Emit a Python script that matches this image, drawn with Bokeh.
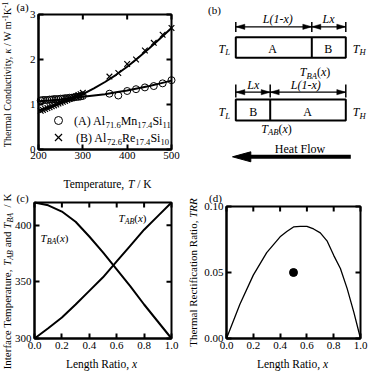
import math
from bokeh.plotting import figure
from bokeh.models import Range1d, LinearAxis, FixedTicker, NumeralTickFormatter, Label, BasicTickFormatter
from bokeh.layouts import column, row
from bokeh.embed import file_html
from bokeh.resources import INLINE

# ---------------- data ----------------
# (a) thermal conductivity
temp_low = [205, 210, 215, 220, 225, 230, 235, 240, 245, 250, 255, 260, 265, 270, 275, 280, 285, 290, 295, 300]
kA_low = [1.09, 1.10, 1.10, 1.10, 1.11, 1.11, 1.12, 1.12, 1.12, 1.13, 1.13, 1.14, 1.14, 1.15, 1.15, 1.16, 1.17, 1.17, 1.18, 1.19]
kB_low = [0.86, 0.88, 0.90, 0.92, 0.94, 0.96, 0.98, 1.00, 1.02, 1.04, 1.06, 1.08, 1.10, 1.12, 1.14, 1.16, 1.18, 1.21, 1.23, 1.26]
temp_high = [360, 380, 400, 420, 440, 460, 480, 500]
kA_high = [1.24, 1.20, 1.30, 1.34, 1.38, 1.41, 1.47, 1.54]
kB_high = [1.62, 1.70, 1.90, 2.00, 2.20, 2.37, 2.55, 2.70]
temp_fit = [200, 225, 250, 275, 300, 325, 350, 375, 400, 425, 450, 475, 500]
kA_fit = [1.07, 1.09, 1.11, 1.14, 1.17, 1.20, 1.23, 1.27, 1.31, 1.36, 1.41, 1.47, 1.53]
kB_fit = [0.87, 0.94, 1.03, 1.12, 1.23, 1.36, 1.50, 1.66, 1.84, 2.04, 2.25, 2.47, 2.70]
a_xticks = [200, 300, 400, 500]
a_yticks = [0, 1, 2, 3]

# (c) interface temperatures
x_ratio = [0.0, 0.1, 0.2, 0.3, 0.4, 0.5, 0.6, 0.7, 0.8, 0.9, 1.0]
T_AB = [300, 309, 318.5, 330, 342, 354, 368, 382, 396, 408, 420]
T_BA = [420, 417.5, 412, 403, 390, 376, 361, 346, 330, 315, 300]
c_xticks = [0.0, 0.2, 0.4, 0.6, 0.8, 1.0]
c_yticks = [300, 350, 400]

# (d) thermal rectification ratio
x_trr = [0.0, 0.1, 0.2, 0.3, 0.4, 0.45, 0.5, 0.55, 0.6, 0.65, 0.7, 0.75, 0.8, 0.85, 0.9, 0.95, 1.0]
trr = [0.0, 0.026, 0.048, 0.065, 0.077, 0.081, 0.0845, 0.085, 0.085, 0.083, 0.080, 0.074, 0.063, 0.053, 0.038, 0.020, 0.0]
x_point = [0.5]
trr_point = [0.05]
d_yticks = [0.0, 0.05, 0.10]

FONT = "Liberation Serif"

# ---------------- text helpers ----------------
METR = {' ': 250, '(': 333, ')': 333, ',': 250, '-': 333, '.': 250, '/': 278,
        'A': 722, 'B': 667, 'C': 667, 'F': 556, 'H': 722, 'I': 333, 'K': 722, 'L': 611,
        'M': 889, 'R': 667, 'S': 556, 'T': 611, 'W': 944,
        'a': 444, 'b': 500, 'c': 444, 'd': 500, 'e': 444, 'f': 333, 'g': 500, 'h': 500,
        'i': 278, 'l': 278, 'm': 778, 'n': 500, 'o': 500, 'p': 500, 'r': 333, 't': 278,
        'u': 500, 'v': 500, 'w': 722, 'x': 500, 'y': 500, 'κ': 550}
ITAL = {'T': 556, 'L': 556, 'x': 444, 'A': 611, 'B': 611, 'H': 722, 'R': 611, 'κ': 500}


def tw(s, size, italic=False):
    tot = 0
    for ch in s:
        if italic and ch in ITAL:
            tot += ITAL[ch]
        else:
            tot += METR.get(ch, 500)
    return tot * size / 1000.0


def rich(p, f, X, Y, segs, size, vertical=False):
    """Place a run of text segments centred at reference pixel (X, Y)."""
    sub = round(size * 0.72, 1)
    items = []
    for text, kind in segs:
        italic = kind.startswith('i')
        small = kind.endswith('sub') or kind.endswith('sup')
        s = sub if small else size
        lead = len(text) - len(text.lstrip(' '))
        lead_w = tw(' ' * lead, s)
        body = text.strip(' ')
        w = tw(text, s, italic)
        if kind.endswith('sub'):
            off = 0.28 * size
        elif kind.endswith('sup'):
            off = -0.33 * size
        else:
            off = 0.0
        items.append((body, italic, s, w, off, lead_w))
    total = sum(it[3] for it in items)
    base = 0.08 * size
    if not vertical:
        cur = X - total / 2
        for text, italic, s, w, off, lead_w in items:
            dx, dy = f(cur + lead_w, Y + base + off)
            p.add_layout(Label(x=dx, y=dy, text=text, text_font=FONT, text_font_size=f"{s}px",
                               text_font_style="italic" if italic else "normal",
                               text_align="left", text_baseline="alphabetic", text_color="black"))
            cur += w
    else:
        cur = Y + total / 2
        for text, italic, s, w, off, lead_w in items:
            dx, dy = f(X + base + off, cur - lead_w)
            p.add_layout(Label(x=dx, y=dy, text=text, text_font=FONT, text_font_size=f"{s}px",
                               text_font_style="italic" if italic else "normal", angle=math.pi / 2,
                               text_align="left", text_baseline="alphabetic", text_color="black"))
            cur -= w


def panel_geom(cx0, cx1, cy0, cy1, bx0, bx1, by0, by1, dx0, dx1, dy0, dy1):
    """canvas (cx, cy) and plot box (bx, by: top, bottom) in reference pixels; box data limits."""
    sx = (dx1 - dx0) / (bx1 - bx0)
    sy = (dy1 - dy0) / (by1 - by0)
    xr = (dx0 - (bx0 - cx0) * sx, dx1 + (cx1 - bx1) * sx)
    yr = (dy0 - (cy1 - by1) * sy, dy1 + (by0 - cy0) * sy)

    def f(X, Y):
        return dx0 + (X - bx0) * sx, dy0 + (by1 - Y) * sy
    return xr, yr, f, sx, sy


def style_axis(ax, ticks, fmt, standoff):
    ax.ticker = FixedTicker(ticks=ticks, minor_ticks=[])
    ax.major_tick_in = 5
    ax.major_tick_out = 0
    ax.minor_tick_in = 0
    ax.minor_tick_out = 0
    ax.major_tick_line_width = 2
    ax.major_tick_line_color = "black"
    ax.axis_line_width = 2
    ax.axis_line_color = "black"
    ax.major_label_text_font = FONT
    ax.major_label_text_font_size = "11px"
    ax.major_label_text_color = "black"
    ax.major_label_standoff = standoff
    ax.formatter = fmt


def make_panel(cx0, cx1, cy0, cy1, bx0, bx1, by0, by1, dx0, dx1, dy0, dy1,
               xticks, yticks, xfmt, yfmt, xs=2, ys=3):
    xr, yr, f, sx, sy = panel_geom(cx0, cx1, cy0, cy1, bx0, bx1, by0, by1, dx0, dx1, dy0, dy1)
    p = figure(width=int(round(cx1 - cx0)), height=int(round(cy1 - cy0)),
               x_range=Range1d(*xr), y_range=Range1d(*yr),
               x_axis_location=None, y_axis_location=None,
               output_backend="svg", toolbar_location=None,
               min_border_left=0, min_border_right=0, min_border_top=0, min_border_bottom=0)
    p.xgrid.visible = False
    p.ygrid.visible = False
    p.outline_line_color = None
    p.background_fill_color = "white"
    p.border_fill_color = "white"
    xa = LinearAxis(fixed_location=dy0, bounds=(dx0, dx1))
    style_axis(xa, xticks, xfmt, xs)
    p.add_layout(xa, "below")
    ya = LinearAxis(fixed_location=dx0, bounds=(dy0, dy1))
    style_axis(ya, yticks, yfmt, ys)
    p.add_layout(ya, "left")
    # frame box and mirrored (inward) ticks on top and right
    p.quad(left=[dx0], right=[dx1], bottom=[dy0], top=[dy1], fill_color=None,
           line_color="black", line_width=2)
    p.segment(x0=xticks, y0=[dy1] * len(xticks), x1=xticks, y1=[dy1 - 5 * sy] * len(xticks),
              line_color="black", line_width=2)
    p.segment(x0=[dx1] * len(yticks), y0=yticks, x1=[dx1 - 5 * sx] * len(yticks), y1=yticks,
              line_color="black", line_width=2)
    return p, f


# canvas covers reference pixels x 10..378, y 6..377
ROW = 197
# ---------------- (a) ----------------
pa, fa = make_panel(10, 192, 6, ROW, 48, 181, 20, 155, 200, 500, 0, 3,
                    a_xticks, a_yticks, BasicTickFormatter(), BasicTickFormatter())
pa.line(temp_fit, kA_fit, line_color="black", line_width=2)
pa.line(temp_fit, kB_fit, line_color="black", line_width=2)
pa.scatter(temp_low + temp_high, kA_low + kA_high, marker="circle", size=7,
           fill_color=None, line_color="black", line_width=1)
pa.scatter(temp_low + temp_high, kB_low + kB_high, marker="x", size=8,
           line_color="black", line_width=1.2)
# legend
lx, ly1 = fa(68, 126)
_, ly2 = fa(68, 143)
pa.scatter([lx], [ly1], marker="circle", size=8, fill_color=None, line_color="black", line_width=1)
pa.scatter([lx], [ly2], marker="x", size=10, line_color="black", line_width=1.2)
rich(pa, fa, 132, 126, [("(A) Al", "n"), ("71.6", "sub"), ("Mn", "n"), ("17.4", "sub"),
                        ("Si", "n"), ("11", "sub")], 12)
rich(pa, fa, 132, 143, [("(B) Al", "n"), ("72.6", "sub"), ("Re", "n"), ("17.4", "sub"),
                        ("Si", "n"), ("10", "sub")], 12)
rich(pa, fa, 32, 12, [("(a)", "n")], 11)
rich(pa, fa, 117, 189, [("Temperature, ", "n"), ("T", "i"), (" / K", "n")], 11.5)
rich(pa, fa, 16.5, 80, [("Thermal Conductivity, ", "n"), ("κ", "i"), (" / W m", "n"), ("-1", "sup"),
                        ("K", "n"), ("-1", "sup")], 10, vertical=True)

# ---------------- (b) ----------------
pb = figure(width=186, height=ROW - 6, x_range=Range1d(192, 378), y_range=Range1d(ROW, 6),
            x_axis_location=None, y_axis_location=None,
            output_backend="svg", toolbar_location=None,
            min_border_left=0, min_border_right=0, min_border_top=0, min_border_bottom=0)
pb.xgrid.visible = False
pb.ygrid.visible = False
pb.outline_line_color = None
pb.background_fill_color = "white"
pb.border_fill_color = "white"
fb = lambda X, Y: (X, Y)

# boxes
pb.quad(left=[245.3, 245.3], right=[355.3, 355.3], top=[42.7, 105], bottom=[63.3, 126],
        fill_color=None, line_color="black", line_width=2)
pb.segment(x0=[321.3, 279.7], y0=[42.7, 105], x1=[321.3, 279.7], y1=[63.3, 126],
           line_color="black", line_width=2)
# dimension lines
pb.segment(x0=[245.3, 245.3], y0=[32.3, 97.7], x1=[355.3, 355.3], y1=[32.3, 97.7],
           line_color="black", line_width=1.3)
pb.segment(x0=[245.3, 321.3, 355.3, 245.3, 279.7, 355.3],
           y0=[27.5, 27.5, 27.5, 90, 90, 90],
           x1=[245.3, 321.3, 355.3, 245.3, 279.7, 355.3],
           y1=[37.5, 37.5, 37.5, 103, 103, 103], line_color="black", line_width=1.5)


def head(tipx, y, d, L=9.0, hw=2.6):
    return [tipx, tipx + d * L, tipx + d * L], [y, y - hw, y + hw]


hx, hy = [], []
for tip, d, yy in [(245.3, 1, 32.3), (321.3, -1, 32.3), (321.3, 1, 32.3), (355.3, -1, 32.3),
                   (245.3, 1, 97.7), (279.7, -1, 97.7), (279.7, 1, 97.7), (355.3, -1, 97.7)]:
    a, b = head(tip, yy, d)
    hx.append(a)
    hy.append(b)
pb.patches(hx, hy, fill_color="black", line_color="black", line_width=0.5)
# heat-flow arrow
pb.segment(x0=[259], y0=[162.3], x1=[360.3], y1=[162.3], line_color="black", line_width=4)
pb.patch([242, 260.3, 260.3], [162.3, 157.3, 167.3], fill_color="black", line_color="black")

rich(pb, fb, 224, 15, [("(b)", "n")], 11)
rich(pb, fb, 287.3, 24, [("L(1-x)", "i")], 12)
rich(pb, fb, 338, 24, [("Lx", "i")], 12)
rich(pb, fb, 233.7, 53.3, [("T", "i"), ("L", "isub")], 12)
rich(pb, fb, 368.7, 53.3, [("T", "i"), ("H", "isub")], 12)
rich(pb, fb, 282, 53.3, [("A", "n")], 12)
rich(pb, fb, 337.7, 53.3, [("B", "n")], 12)
rich(pb, fb, 324.5, 76.7, [("T", "i"), ("BA", "isub"), ("(", "n"), ("x", "i"), (")", "n")], 12)
rich(pb, fb, 262.8, 89.3, [("Lx", "i")], 12)
rich(pb, fb, 315.3, 89.3, [("L(1-x)", "i")], 12)
rich(pb, fb, 233.7, 116.7, [("T", "i"), ("L", "isub")], 12)
rich(pb, fb, 368.7, 116.7, [("T", "i"), ("H", "isub")], 12)
rich(pb, fb, 262.7, 116.7, [("B", "n")], 12)
rich(pb, fb, 317, 116.7, [("A", "n")], 12)
rich(pb, fb, 286, 133.3, [("T", "i"), ("AB", "isub"), ("(", "n"), ("x", "i"), (")", "n")], 12)
rich(pb, fb, 309.5, 154, [("Heat Flow", "n")], 12)

# ---------------- (c) ----------------
pc, fc = make_panel(10, 192, ROW, 377, 44, 181, 208, 344, 0, 1, 300, 420,
                    c_xticks, c_yticks, NumeralTickFormatter(format="0.0"), BasicTickFormatter(), xs=3)
pc.line(x_ratio, T_AB, line_color="black", line_width=2)
pc.line(x_ratio, T_BA, line_color="black", line_width=2)
rich(pc, fc, 142, 223, [("T", "i"), ("AB", "isub"), ("(", "n"), ("x", "i"), (")", "n")], 11)
rich(pc, fc, 64, 243, [("T", "i"), ("BA", "isub"), ("(", "n"), ("x", "i"), (")", "n")], 11)
rich(pc, fc, 32, 203, [("(c)", "n")], 11)
rich(pc, fc, 111, 369, [("Length Ratio, ", "n"), ("x", "i")], 11.5)
rich(pc, fc, 16, 287, [("Interface Temperature, ", "n"), ("T", "i"), ("AB", "isub"), (" and ", "n"),
                       ("T", "i"), ("BA", "isub"), ("  / K", "n")], 11, vertical=True)

# ---------------- (d) ----------------
pd_, fd = make_panel(192, 378, ROW, 377, 236, 370, 212, 344, 0, 1, 0, 0.10,
                     c_xticks, d_yticks, NumeralTickFormatter(format="0.0"),
                     NumeralTickFormatter(format="0.00"), xs=3)
pd_.line(x_trr, trr, line_color="black", line_width=1.3)
pd_.scatter(x_point, trr_point, marker="circle", size=8, fill_color="black", line_color="black")
rich(pd_, fd, 225, 203, [("(d)", "n")], 11)
rich(pd_, fd, 302, 369, [("Length Ratio, ", "n"), ("x", "i")], 11.5)
rich(pd_, fd, 202, 278, [("Thermal Rectification Ratio, ", "n"), ("TRR", "i")], 11, vertical=True)

layout = column(row(pa, pb), row(pc, pd_))
open("out.html", "w").write(file_html(layout, INLINE))
